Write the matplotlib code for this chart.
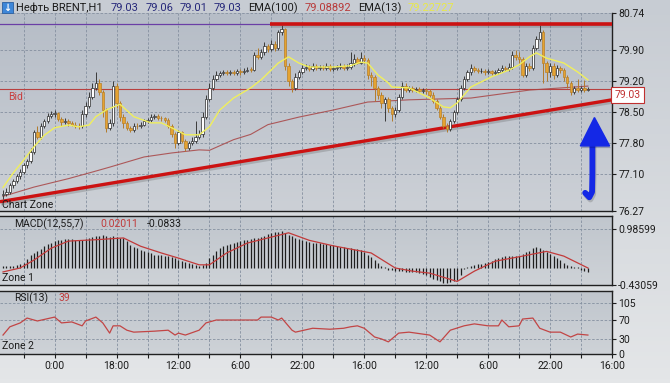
import numpy as np
import matplotlib
matplotlib.use("Agg")
import matplotlib.pyplot as plt
from matplotlib import patheffects as pe
from matplotlib.colors import LinearSegmentedColormap
from matplotlib.patches import Polygon, Rectangle

plt.rcParams['font.family'] = ['Roboto', 'DejaVu Sans']

# ---- hourly candles (Brent, H1) ----
opens = [
    76.62, 76.65, 76.70, 76.85, 76.95, 77.05, 77.15, 77.30, 77.40, 77.60,
    78.05, 77.95, 78.20, 78.30, 78.42, 78.45, 78.48, 78.35, 78.28, 78.30,
    78.25, 78.22, 78.20, 78.18, 78.45, 78.65, 78.85, 79.05, 79.15, 78.95,
    78.55, 78.15, 78.25, 79.10, 78.70, 78.40, 78.25, 78.15, 78.10, 78.20,
    78.18, 78.22, 78.30, 78.32, 78.40, 78.42, 78.38, 78.36, 78.32, 78.20,
    78.00, 77.80, 78.05, 77.85, 77.70, 77.80, 77.85, 77.95, 78.00, 78.40,
    78.80, 79.05, 79.25, 79.35, 79.38, 79.40, 79.38, 79.40, 79.39, 79.42,
    79.40, 79.44, 79.46, 79.45, 79.80, 79.75, 79.85, 80.00, 79.92, 80.05,
    79.95, 80.30, 80.38, 79.55, 79.20, 79.05, 79.30, 79.40, 79.50, 79.52,
    79.48, 79.55, 79.50, 79.52, 79.50, 79.55, 79.48, 79.50, 79.52, 79.55,
    79.50, 79.52, 79.60, 79.70, 79.62, 79.72, 79.68, 79.35, 79.30, 79.05,
    78.90, 78.70, 78.80, 78.60, 78.45, 78.55, 78.85, 79.10, 79.00, 79.05,
    79.00, 79.02, 78.98, 79.00, 78.98, 78.90, 78.75, 78.60, 78.40, 78.20,
    78.12, 78.30, 78.50, 78.80, 79.05, 79.25, 79.40, 79.50, 79.45, 79.42,
    79.44, 79.40, 79.42, 79.38, 79.40, 79.45, 79.50, 79.48, 79.52, 79.80,
    79.75, 79.70, 79.35, 79.55, 79.50, 79.95, 80.15, 80.30, 79.60, 79.40,
    79.55, 79.35, 79.50, 79.45, 79.30, 79.15, 78.95, 79.05, 79.00, 79.05,
    79.00]
closes = [
    76.65, 76.70, 76.85, 76.95, 77.05, 77.15, 77.30, 77.40, 77.60, 78.05,
    77.95, 78.20, 78.30, 78.42, 78.45, 78.48, 78.35, 78.28, 78.30, 78.25,
    78.22, 78.20, 78.18, 78.45, 78.65, 78.85, 79.05, 79.15, 78.95, 78.55,
    78.15, 78.25, 79.10, 78.70, 78.40, 78.25, 78.15, 78.10, 78.20, 78.18,
    78.22, 78.30, 78.32, 78.40, 78.42, 78.38, 78.36, 78.32, 78.20, 78.00,
    77.80, 78.05, 77.85, 77.70, 77.80, 77.85, 77.95, 78.00, 78.40, 78.80,
    79.05, 79.25, 79.35, 79.38, 79.40, 79.38, 79.40, 79.39, 79.42, 79.40,
    79.44, 79.46, 79.45, 79.80, 79.75, 79.85, 80.00, 79.92, 80.05, 79.95,
    80.30, 80.38, 79.55, 79.20, 79.05, 79.30, 79.40, 79.50, 79.52, 79.48,
    79.55, 79.50, 79.52, 79.50, 79.55, 79.48, 79.50, 79.52, 79.55, 79.50,
    79.52, 79.60, 79.70, 79.62, 79.72, 79.68, 79.35, 79.30, 79.05, 78.90,
    78.70, 78.80, 78.60, 78.45, 78.55, 78.85, 79.10, 79.00, 79.05, 79.00,
    79.02, 78.98, 79.00, 78.98, 78.90, 78.75, 78.60, 78.40, 78.20, 78.12,
    78.30, 78.50, 78.80, 79.05, 79.25, 79.40, 79.50, 79.45, 79.42, 79.44,
    79.40, 79.42, 79.38, 79.40, 79.45, 79.50, 79.48, 79.52, 79.80, 79.75,
    79.70, 79.35, 79.55, 79.50, 79.95, 80.15, 80.30, 79.60, 79.40, 79.55,
    79.35, 79.50, 79.45, 79.30, 79.15, 78.95, 79.05, 79.00, 79.05, 79.00,
    79.03]
highs = [
    76.75, 76.80, 76.90, 77.00, 77.10, 77.22, 77.35, 77.45, 77.70, 78.10,
    78.20, 78.25, 78.35, 78.48, 78.52, 78.55, 78.50, 78.40, 78.36, 78.34,
    78.30, 78.27, 78.25, 78.55, 78.72, 78.95, 79.15, 79.40, 79.25, 79.00,
    78.60, 78.35, 79.20, 79.15, 78.75, 78.45, 78.30, 78.20, 78.25, 78.25,
    78.28, 78.35, 78.38, 78.45, 78.47, 78.46, 78.42, 78.40, 78.36, 78.24,
    78.05, 78.10, 78.08, 77.90, 77.85, 77.95, 78.30, 78.10, 78.50, 78.90,
    79.15, 79.35, 79.42, 79.44, 79.45, 79.45, 79.46, 79.45, 79.48, 79.47,
    79.50, 79.52, 79.52, 79.85, 79.95, 79.92, 80.08, 80.05, 80.12, 80.10,
    80.35, 80.47, 80.40, 79.60, 79.25, 79.38, 79.46, 79.56, 79.58, 79.57,
    79.60, 79.58, 79.57, 79.56, 79.60, 79.58, 79.55, 79.57, 79.60, 79.58,
    79.58, 79.85, 79.82, 79.75, 79.85, 79.80, 79.72, 79.40, 79.35, 79.10,
    78.95, 78.85, 78.85, 78.65, 78.62, 78.92, 79.18, 79.15, 79.10, 79.10,
    79.08, 79.07, 79.05, 79.05, 79.03, 78.95, 78.80, 78.65, 78.45, 78.25,
    78.35, 78.55, 78.85, 79.12, 79.32, 79.46, 79.58, 79.55, 79.50, 79.49,
    79.48, 79.47, 79.46, 79.45, 79.50, 79.56, 79.55, 79.60, 79.88, 79.90,
    79.85, 79.75, 79.62, 79.60, 80.02, 80.22, 80.46, 80.35, 79.65, 79.62,
    79.60, 79.56, 79.55, 79.50, 79.35, 79.20, 79.10, 79.25, 79.10, 79.22,
    79.07]
lows = [
    76.55, 76.60, 76.65, 76.80, 76.90, 77.00, 77.10, 77.25, 77.35, 77.55,
    77.90, 77.90, 78.15, 78.25, 78.38, 78.40, 78.30, 78.20, 78.24, 78.20,
    78.18, 78.15, 78.12, 78.15, 78.40, 78.60, 78.80, 79.00, 78.90, 78.40,
    78.05, 78.10, 78.20, 78.60, 78.30, 78.15, 78.10, 78.05, 78.05, 78.12,
    78.14, 78.18, 78.26, 78.28, 78.35, 78.33, 78.30, 78.28, 78.15, 77.95,
    77.70, 77.75, 77.80, 77.62, 77.65, 77.75, 77.80, 77.90, 77.95, 78.35,
    78.75, 79.00, 79.20, 79.30, 79.33, 79.33, 79.34, 79.34, 79.35, 79.35,
    79.36, 79.40, 79.40, 79.42, 79.70, 79.70, 79.80, 79.85, 79.88, 79.88,
    79.90, 80.25, 79.45, 79.10, 78.95, 79.00, 79.25, 79.36, 79.45, 79.42,
    79.44, 79.45, 79.46, 79.45, 79.46, 79.43, 79.44, 79.46, 79.48, 79.45,
    79.46, 79.48, 79.55, 79.58, 79.58, 79.62, 79.25, 79.10, 78.75, 78.80,
    78.60, 78.30, 78.50, 78.30, 78.40, 78.50, 78.80, 78.95, 78.95, 78.95,
    78.95, 78.93, 78.93, 78.92, 78.85, 78.70, 78.55, 78.35, 78.15, 78.06,
    78.08, 78.25, 78.45, 78.75, 79.00, 79.20, 79.35, 79.40, 79.38, 79.38,
    79.35, 79.36, 79.33, 79.34, 79.36, 79.40, 79.42, 79.44, 79.48, 79.68,
    79.62, 79.30, 79.30, 79.44, 79.46, 79.90, 80.10, 79.15, 79.20, 79.30,
    79.25, 79.30, 79.38, 79.20, 79.05, 78.90, 78.92, 78.95, 78.95, 78.95,
    78.98]

# EMA lines, read at selected bars
ema13_bars = [0, 3, 6, 9, 12, 15, 19, 22, 25, 27, 30, 34, 38, 43, 46, 49, 53, 57,
              60, 63, 67, 72, 75, 80, 83, 86, 89, 91, 96, 101, 104, 106, 109, 112,
              113, 118, 124, 128, 130, 132, 136, 142, 147, 150, 153, 155, 158, 163,
              167, 170]
ema13 = [76.80, 77.13, 77.42, 77.72, 77.98, 78.15, 78.21, 78.17, 78.21, 78.40,
         78.55, 78.68, 78.40, 78.26, 78.26, 78.15, 77.99, 77.99, 78.17, 78.55,
         78.82, 79.05, 79.23, 79.61, 79.75, 79.61, 79.52, 79.52, 79.52, 79.55,
         79.63, 79.61, 79.34, 79.16, 79.07, 79.05, 78.82, 78.62, 78.60, 78.71,
         79.07, 79.30, 79.45, 79.57, 79.75, 79.84, 79.72, 79.61, 79.41, 79.23]
ema100_bars = [0, 9, 19, 26, 31, 41, 49, 57, 60, 67, 72, 77, 86, 96, 106, 118,
               136, 153, 170]
ema100 = [76.60, 76.81, 77.00, 77.15, 77.26, 77.49, 77.58, 77.65, 77.64, 77.88,
          78.00, 78.22, 78.39, 78.55, 78.73, 78.78, 78.82, 79.00, 79.09]

# MACD(12,55,7) histogram per bar and signal line
macd_hist = [
    0.05, 0.06, 0.05, 0.06, 0.08, 0.10, 0.12, 0.22, 0.33, 0.38,
    0.42, 0.48, 0.55, 0.60, 0.63, 0.68, 0.72, 0.72, 0.73, 0.73,
    0.73, 0.72, 0.72, 0.72, 0.74, 0.76, 0.78, 0.80, 0.82, 0.84,
    0.80, 0.78, 0.80, 0.78, 0.77, 0.76, 0.68, 0.59, 0.54, 0.50,
    0.46, 0.43, 0.40, 0.37, 0.34, 0.33, 0.32, 0.31, 0.30, 0.27,
    0.24, 0.21, 0.18, 0.15, 0.13, 0.10, 0.07, 0.04, 0.08, 0.13,
    0.25, 0.34, 0.42, 0.50, 0.55, 0.58, 0.61, 0.63, 0.66, 0.68,
    0.70, 0.72, 0.74, 0.76, 0.77, 0.78, 0.82, 0.85, 0.89, 0.91,
    0.92, 0.93, 0.88, 0.84, 0.80, 0.77, 0.73, 0.70, 0.68, 0.66,
    0.64, 0.63, 0.62, 0.61, 0.60, 0.59, 0.58, 0.56, 0.54, 0.52,
    0.51, 0.50, 0.48, 0.47, 0.46, 0.40, 0.34, 0.27, 0.20, 0.13,
    0.05, 0.02, -0.04, -0.06, -0.08, -0.07, -0.08, -0.09, -0.10, -0.10,
    -0.11, -0.13, -0.15, -0.18, -0.22, -0.27, -0.30, -0.34, -0.37, -0.38,
    -0.36, -0.33, -0.30, -0.18, -0.02, 0.03, 0.05, 0.07, 0.09, 0.10,
    0.12, 0.15, 0.18, 0.22, 0.25, 0.28, 0.30, 0.30, 0.30, 0.30,
    0.31, 0.35, 0.40, 0.44, 0.50, 0.53, 0.50, 0.45, 0.40, 0.35,
    0.30, 0.25, 0.20, 0.13, 0.08, 0.05, 0.03, 0.02, -0.04, -0.08,
    -0.10]
signal_bars = [0, 5, 9, 14, 19, 28, 35, 40, 46, 51, 57, 60, 65, 71, 77, 83, 89,
               96, 107, 114, 119, 124, 132, 137, 143, 151, 158, 163, 170]
macd_signal = [-0.10, 0.00, 0.20, 0.50, 0.68, 0.72, 0.76, 0.55, 0.38, 0.25, 0.08,
               0.08, 0.38, 0.63, 0.76, 0.89, 0.70, 0.56, 0.38, 0.00, -0.08, -0.13,
               -0.34, -0.08, 0.17, 0.30, 0.42, 0.30, 0.00]

# RSI(13)
rsi_bars = [0, 2, 5, 7, 10, 15, 17, 20, 23, 24, 27, 29, 31, 32, 34, 36, 38, 44,
            48, 50, 51, 53, 57, 59, 62, 69, 74, 75, 78, 80, 81, 84, 85, 90, 95,
            99, 101, 103, 105, 108, 110, 112, 115, 118, 124, 127, 130, 134, 137,
            141, 144, 145, 147, 150, 151, 154, 156, 159, 162, 165, 167, 170]
rsi = [39, 56, 64, 74, 68, 76, 64, 66, 58, 68, 76, 64, 43, 58, 58, 49, 45, 47,
       49, 39, 43, 39, 49, 64, 70, 70, 70, 76, 76, 70, 74, 49, 45, 53, 51,
       53, 56, 58, 53, 35, 31, 25, 43, 45, 39, 25, 49, 58, 62,
       58, 58, 70, 56, 58, 72, 74, 53, 45, 45, 35, 41, 39]

price_ticks = [76.27, 77.10, 77.80, 78.50, 79.20, 79.90, 80.74]
macd_ticks = [-0.43059, 0.98599]
rsi_ticks = [0, 30, 70, 105]
time_labels = ['0:00', '18:00', '12:00', '6:00', '22:00', '16:00',
               '12:00', '6:00', '22:00', '16:00']
time_label_bars = [15, 33, 51, 69, 87, 105, 123, 141, 159, 177]
grid_bars = list(range(6, 178, 9))

bid = 79.03
resistance = 80.49
resistance_from = 77.5
trend_bars = [-0.9, 177]
trend_prices = [76.48, 78.78]
arrow_shaft_bars = [169.2, 170.4, 171.2, 171.3, 171.3]
arrow_shaft_prices = [76.68, 76.58, 76.70, 77.10, 77.78]
arrow_head_bars = [167.8, 176.3, 171.9]
arrow_head_prices = [77.74, 77.74, 78.38]

W, H = 670, 383
X0, X1 = -0.87, 177.0
TXT = '#1c1c1c'
GRID = '#8590a0'


def fx(px):
    return px / W


def fy(py):
    return 1 - py / H


def gradient(ax, top, bottom):
    cmap = LinearSegmentedColormap.from_list('g', [top, bottom])
    grad = np.linspace(0, 1, 100).reshape(-1, 1)
    ax.imshow(grad, cmap=cmap, aspect='auto', extent=[0, 1, 0, 1],
              transform=ax.transAxes, zorder=0, origin='upper')


fig = plt.figure(figsize=(W / 100, H / 100), dpi=100)

bg = fig.add_axes([0, 0, 1, 1], zorder=-10)
gradient(bg, '#c7ccd3', '#e4e6e8')
bg.axis('off')

ax = fig.add_axes([0, fy(211), fx(612), 198 / H])
ax_m = fig.add_axes([0, fy(285), fx(612), 69 / H])
ax_r = fig.add_axes([0, fy(354), fx(612), 63 / H])

gradient(ax, '#b6bdc7', '#ccd0d6')
gradient(ax_m, '#c0c6cd', '#ced2d7')
gradient(ax_r, '#c0c6cd', '#ced2d7')

shadow = [pe.SimpleLineShadow(offset=(0.8, -1.6), shadow_color='#505050', alpha=0.25),
          pe.Normal()]

# ---- main price panel ----
o = np.array(opens)
c = np.array(closes)
h = np.array(highs)
l = np.array(lows)
idx = np.arange(len(c))
up = c >= o
body_lo = np.minimum(o, c)
body_h = np.maximum(np.abs(c - o), 0.015)

ax.axhline(resistance, color='#6a3fa6', lw=0.9, zorder=2)
ax.axhline(bid, color='#b84040', lw=0.8, zorder=2)
ax.plot(ema100_bars, ema100, color='#a84444', lw=0.8, alpha=0.85, zorder=2)
ax.plot(trend_bars, trend_prices, color='#cc1212', lw=2.4, zorder=2,
        solid_capstyle='butt', path_effects=shadow)
ax.hlines(resistance, resistance_from, X1, color='#cc1212', lw=2.6, zorder=5,
          path_effects=shadow)

ax.vlines(idx[up], l[up], h[up], color='#3a3a3a', lw=0.7, zorder=3)
ax.vlines(idx[~up], l[~up], h[~up], color='#b27a2a', lw=0.7, zorder=3)
ax.bar(idx[up], body_h[up], bottom=body_lo[up], width=0.7, color='white',
       edgecolor='#2a2a2a', lw=0.5, zorder=4)
ax.bar(idx[~up], body_h[~up], bottom=body_lo[~up], width=0.7, color='#e5a331',
       edgecolor='#b8802a', lw=0.5, zorder=4)

ax.plot(ema13_bars, ema13, color='#f0ef5c', lw=1.0, zorder=5)

ax.plot(arrow_shaft_bars, arrow_shaft_prices, color='#1428e6', lw=4.2, zorder=6,
        solid_capstyle='round', solid_joinstyle='round', path_effects=shadow)
head = Polygon(list(zip(arrow_head_bars, arrow_head_prices)), closed=True,
               color='#1428e6', zorder=6,
               path_effects=[pe.SimplePatchShadow(offset=(0.8, -1.6), alpha=0.25),
                             pe.Normal()])
ax.add_patch(head)

ax.set_ylim(76.27, 80.74)
ax.set_yticks(price_ticks)
ax.set_yticklabels(['%.2f' % v for v in price_ticks])

ax.text(1.5, 78.84, 'Bid', color='#c84040', fontsize=7.5, va='center', zorder=7)
ax.text(1.004, bid - 0.02, '79.03', transform=ax.get_yaxis_transform(),
        color='#c03030', fontsize=7.5, va='top', ha='left', clip_on=False, zorder=10,
        bbox=dict(boxstyle='square,pad=0.3', fc='white', ec='#c03030', lw=0.8))

# ---- MACD panel ----
ax_m.vlines(idx, 0, macd_hist, color='#1e1e1e', lw=0.9, zorder=3)
ax_m.plot(signal_bars, macd_signal, color='#c23a3a', lw=0.9, zorder=4)
ax_m.set_ylim(-0.43059, 1.315)
ax_m.set_yticks(macd_ticks)
ax_m.set_yticklabels(['-0.43059', '0.98599'])

# ---- RSI panel ----
ax_r.plot(rsi_bars, rsi, color='#c24545', lw=0.9, zorder=4)
ax_r.set_ylim(0, 129.7)
ax_r.set_yticks(rsi_ticks)
ax_r.set_yticklabels([str(v) for v in rsi_ticks])

for a in (ax, ax_m, ax_r):
    a.set_xlim(X0, X1)
    a.yaxis.tick_right()
    a.tick_params(axis='y', direction='out', length=3, width=0.8, colors=TXT,
                  labelsize=7.5, pad=1.5)
    a.set_xticks(grid_bars)
    a.grid(True, color=GRID, ls=(0, (3, 2)), lw=0.6, zorder=1)
    a.set_axisbelow(True)
    a.spines['left'].set_visible(False)
    for s in ('right', 'bottom', 'top'):
        a.spines[s].set_color('#202020')
        a.spines[s].set_linewidth(1.0)

ax.spines['top'].set_visible(False)
for a in (ax, ax_m):
    a.tick_params(axis='x', length=0, labelbottom=False)

ax_r.set_xticklabels([time_labels[time_label_bars.index(b)] if b in time_label_bars
                      else '' for b in grid_bars])
ax_r.tick_params(axis='x', direction='out', length=3, width=0.8, colors=TXT,
                 labelsize=7.5, pad=2)

# ---- header and panel captions ----
fig.patches.append(Rectangle((fx(2), fy(13)), fx(11), 11 / H, transform=fig.transFigure,
                             fc='#3d86d8', ec='#2a5fa0', lw=0.6))
fig.text(fx(7.5), fy(7.5), '↓', color='white', fontsize=7, ha='center', va='center',
         family=['DejaVu Sans'], weight='bold')
hy = fy(8)
fig.text(fx(16), hy, 'Нефть BRENT,H1', color=TXT, fontsize=8, va='center')
for px, s in [(111, '79.03'), (146, '79.06'), (180, '79.01'), (214, '79.03')]:
    fig.text(fx(px), hy, s, color='#26287a', fontsize=8, va='center')
fig.text(fx(248), hy, 'EMA(100)', color=TXT, fontsize=8, va='center')
fig.text(fx(305), hy, '79.08892', color='#b83a3a', fontsize=8, va='center')
fig.text(fx(358), hy, 'EMA(13)', color=TXT, fontsize=8, va='center')
fig.text(fx(408), hy, '79.22727', color='#e8e84a', fontsize=8, va='center')

fig.text(fx(2), fy(205), 'Chart Zone', color=TXT, fontsize=7.5, va='center')
fig.text(fx(14), fy(224), 'MACD(12,55,7)', color=TXT, fontsize=7.5, va='center')
fig.text(fx(100), fy(224), '0.02011', color='#c03a3a', fontsize=7.5, va='center')
fig.text(fx(147), fy(224), '-0.0833', color=TXT, fontsize=7.5, va='center')
fig.text(fx(2), fy(278), 'Zone 1', color=TXT, fontsize=7.5, va='center')
fig.text(fx(14), fy(298), 'RSI(13)', color=TXT, fontsize=7.5, va='center')
fig.text(fx(58), fy(298), '39', color='#c03a3a', fontsize=7.5, va='center')
fig.text(fx(2), fy(346), 'Zone 2', color=TXT, fontsize=7.5, va='center')

fig.savefig('out.png', dpi=100)
